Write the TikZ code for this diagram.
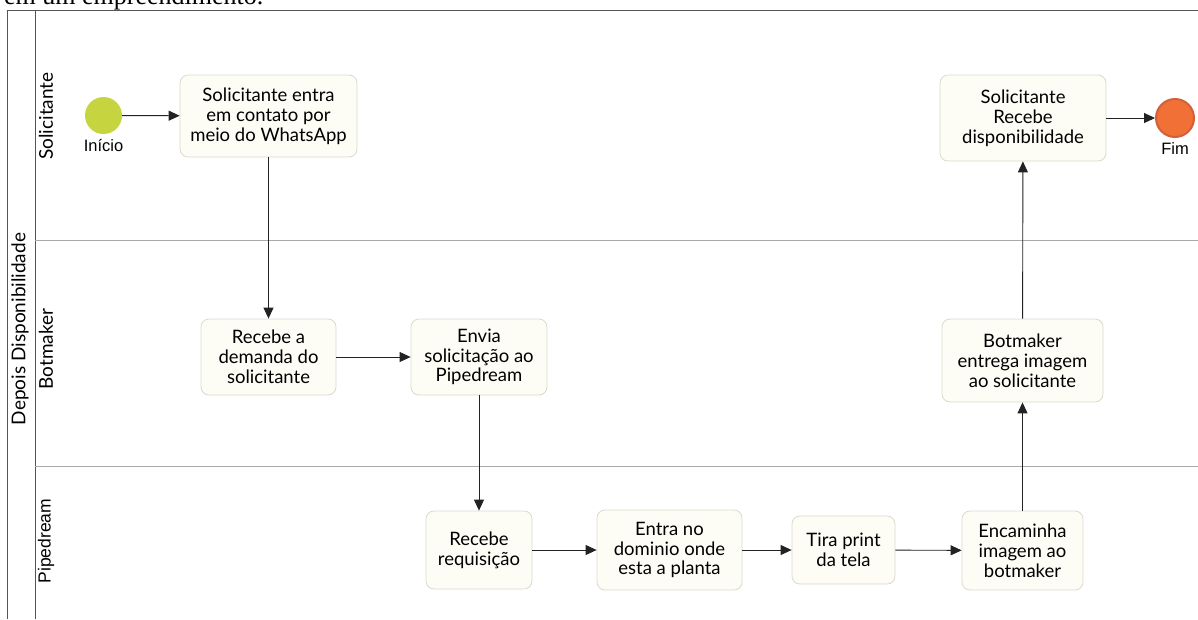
\documentclass[tikz,border=0pt]{standalone}
\usepackage{fontspec}
\setmainfont{Lato}
\newfontfamily\arialf{Liberation Sans}
\newfontfamily\timesf{Liberation Serif}
\usetikzlibrary{arrows.meta}
\definecolor{taskfill}{HTML}{FDFDF5}
\definecolor{taskdraw}{HTML}{D9D9CF}
\definecolor{startfill}{HTML}{C6D43F}
\definecolor{endfill}{HTML}{F07035}
\definecolor{enddraw}{HTML}{D2603A}
\definecolor{pooldraw}{HTML}{555555}
\definecolor{lanedraw}{HTML}{AAAAAA}
\definecolor{flow}{HTML}{222222}
\begin{document}
\begin{tikzpicture}[x=1pt,y=-1pt,
  task/.style={draw=taskdraw, fill=taskfill, rounded corners=8pt, line width=0.8pt,
    align=center, inner sep=0pt, font=\fontsize{18.5}{19.8}\selectfont},
  flowline/.style={draw=flow, line width=0.9pt, -{Triangle[length=11pt,width=10pt]}},
  lanelabel/.style={rotate=90, inner sep=0pt, font=\fontsize{19}{19}\selectfont},
  evlabel/.style={anchor=base, inner sep=0pt, font=\arialf\fontsize{16.5}{16.5}\selectfont}
]
\useasboundingbox (0,0) rectangle (1198,619);
% caption fragment cut at the top
\node[anchor=base west, inner sep=0pt, font=\timesf\fontsize{26}{26}\selectfont] (cap) at (4,4) {em um empreendimento.};
% pool and lanes
\draw[pooldraw, line width=1pt] (7,619) -- (7,10) -- (1198,10);
\draw[pooldraw, line width=1pt] (35,10) -- (35,619);
\draw[lanedraw, line width=1pt] (35,240) -- (1198,240);
\draw[lanedraw, line width=1pt] (35,466) -- (1198,466);
\node[lanelabel] (pool) at (20,329) {Depois Disponibilidade};
\node[lanelabel] (lane1) at (46,116) {Solicitante};
\node[lanelabel] (lane2) at (46,349) {Botmaker};
\node[lanelabel, font=\arialf\fontsize{17.5}{17.5}\selectfont] (lane3) at (46,541) {Pipedream};
% events
\node[circle, fill=startfill, draw=none, minimum size=37pt, inner sep=0pt] (start) at (103.5,115.5) {};
\node[evlabel] (startl) at (103.5,151) {Início};
\node[circle, fill=endfill, draw=enddraw, line width=2pt, minimum size=38pt, inner sep=0pt] (end) at (1175,118) {};
\node[evlabel] (endl) at (1175,154) {Fim};
% tasks
\node[task, minimum width=177pt, minimum height=82pt] (t1) at (268.5,116) {Solicitante entra\\em contato por\\meio do WhatsApp};
\node[task, minimum width=135pt, minimum height=76pt] (t2) at (268.5,357) {Recebe a\\demanda do\\solicitante};
\node[task, minimum width=136pt, minimum height=76pt] (t3) at (479,357) {Envia\\solicitação ao\\Pipedream};
\node[task, minimum width=106pt, minimum height=78pt] (t4) at (479,550) {Recebe\\requisição};
\node[task, minimum width=145pt, minimum height=80pt] (t5) at (669.5,550) {Entra no\\dominio onde\\esta a planta};
\node[task, minimum width=103pt, minimum height=68pt] (t6) at (843.5,550) {Tira print\\da tela};
\node[task, minimum width=121pt, minimum height=79pt] (t7) at (1022.5,550.5) {Encaminha\\imagem ao\\botmaker};
\node[task, minimum width=161pt, minimum height=83pt] (t8) at (1022.5,360.5) {Botmaker\\entrega imagem\\ao solicitante};
\node[task, minimum width=166pt, minimum height=86pt] (t9) at (1023,118) {Solicitante\\Recebe\\disponibilidade};
% flows
\draw[flowline] (start) -- (t1);
\draw[flowline] (t1) -- (t2);
\draw[flowline] (t2) -- (t3);
\draw[flowline] (t3) -- (t4);
\draw[flowline] (t4) -- (t5);
\draw[flowline] (t5) -- (t6);
\draw[flowline] (t6) -- (t7);
\draw[flowline] (t7) -- (t8);
\draw[flowline] (t8) -- (t9);
\draw[flowline] (t9) -- (end);
\end{tikzpicture}
\end{document}
